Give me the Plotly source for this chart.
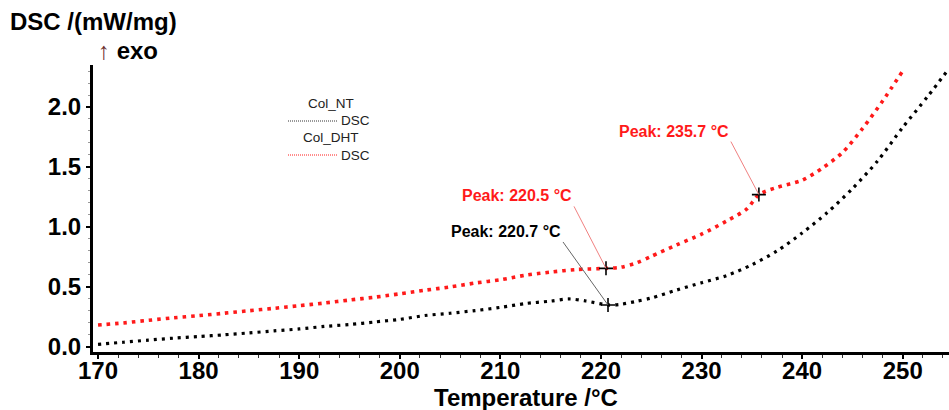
import plotly.graph_objects as go

# DSC curves, temperature in °C and heat flow in mW/mg
temp_nt = [170.0, 172.5, 175.0, 177.5, 180.0, 182.5, 185.0, 187.5, 190.0, 192.5,
           195.0, 197.5, 200.0, 202.5, 205.0, 207.5, 210.0, 212.5, 215.0, 216.8,
           218.5, 220.7, 222.0, 223.5, 225.0, 227.5, 230.0, 232.5, 235.0, 237.5,
           240.0, 242.5, 245.0, 247.5, 250.0, 252.5, 254.6]
dsc_nt = [0.022, 0.039, 0.057, 0.073, 0.087, 0.101, 0.117, 0.134, 0.150, 0.171,
          0.187, 0.208, 0.230, 0.262, 0.281, 0.303, 0.330, 0.362, 0.382, 0.400,
          0.383, 0.350, 0.356, 0.380, 0.408, 0.474, 0.535, 0.595, 0.685, 0.800,
          0.950, 1.120, 1.320, 1.550, 1.830, 2.090, 2.320]

temp_dht = [170.0, 172.5, 175.0, 177.5, 180.0, 182.5, 185.0, 187.5, 190.0, 192.5,
            195.0, 197.5, 200.0, 202.5, 205.0, 207.5, 210.0, 212.5, 215.0, 217.5,
            220.5, 222.0, 223.5, 225.0, 227.5, 230.0, 232.5, 234.5, 235.7, 237.5,
            240.0, 242.0, 244.0, 246.0, 248.0, 250.0]
dsc_dht = [0.183, 0.200, 0.222, 0.243, 0.261, 0.281, 0.302, 0.322, 0.344, 0.366,
           0.391, 0.415, 0.443, 0.473, 0.500, 0.533, 0.560, 0.598, 0.624, 0.645,
           0.655, 0.665, 0.700, 0.755, 0.850, 0.940, 1.050, 1.150, 1.270, 1.330,
           1.390, 1.490, 1.620, 1.820, 2.050, 2.300]

# Peak markers
peak_labels = ["Peak: 220.7 °C", "Peak: 220.5 °C", "Peak: 235.7 °C"]
peak_temps = [220.7, 220.5, 235.7]
peak_vals = [0.350, 0.655, 1.270]

x_ticks = [170, 180, 190, 200, 210, 220, 230, 240, 250]
y_ticks = [0.0, 0.5, 1.0, 1.5, 2.0]

FONT = "Liberation Sans, Arial, sans-serif"
RED = "#ff1a1a"

# plot area in pixels
L, R, T, B = 93, 949, 65, 352


def px(x):
    return (x - L) / (R - L)


def py(y):
    return (B - y) / (B - T)


fig = go.Figure()

fig.add_trace(go.Scatter(
    x=temp_nt, y=dsc_nt, mode="lines", name="Col_NT",
    line=dict(color="#000000", width=3.2, dash="3px,5px", shape="spline", smoothing=0.8),
    showlegend=False, hoverinfo="skip"))
fig.add_trace(go.Scatter(
    x=temp_dht, y=dsc_dht, mode="lines", name="Col_DHT",
    line=dict(color=RED, width=3.6, dash="3.5px,5px", shape="spline", smoothing=0.8),
    showlegend=False, hoverinfo="skip"))

fig.add_trace(go.Scatter(
    x=peak_temps, y=peak_vals, mode="markers",
    marker=dict(symbol="cross-thin", size=10, line=dict(color="#000000", width=1.6)),
    showlegend=False, hoverinfo="skip"))

# peak annotations: (colour, leader colour, ax, ay)
peak_styles = [("#000000", "#666666", -45, -63),
               (RED, "#f08080", -32, -62),
               (RED, "#f08080", -28, -53)]
for label, t, v, (c, lc, ax, ay) in zip(peak_labels, peak_temps, peak_vals, peak_styles):
    fig.add_annotation(
        x=t, y=v, xref="x", yref="y", text=label,
        showarrow=True, arrowhead=0, arrowwidth=1, arrowcolor=lc,
        ax=ax, ay=ay, xanchor="right", yanchor="bottom",
        font=dict(family=FONT, size=16, color=c, weight="bold"))

# axis titles
fig.add_annotation(x=px(8), y=py(22), xref="paper", yref="paper", text="DSC /(mW/mg)",
                   showarrow=False, xanchor="left", yanchor="middle",
                   font=dict(family=FONT, size=24, color="#000000", weight="bold"))
fig.add_annotation(x=px(96), y=py(50), xref="paper", yref="paper",
                   text="<span style='color:#6b2d2d;font-weight:normal'>↑</span> exo",
                   showarrow=False, xanchor="left", yanchor="middle",
                   font=dict(family=FONT, size=24, color="#000000", weight="bold"))
fig.add_annotation(x=px(526), y=py(397), xref="paper", yref="paper", text="Temperature /°C",
                   showarrow=False, xanchor="center", yanchor="middle",
                   font=dict(family=FONT, size=24, color="#000000", weight="bold"))

# legend block
legend_rows = [("Col_NT", "#333333", 103, 121), ("Col_DHT", RED, 137, 155)]
for name, col, ty, ly in legend_rows:
    fig.add_annotation(x=px(331), y=py(ty), xref="paper", yref="paper", text=name,
                       showarrow=False, xanchor="center", yanchor="middle",
                       font=dict(family=FONT, size=13.5, color="#222222"))
    fig.add_shape(type="line", xref="paper", yref="paper",
                  x0=px(288), x1=px(337), y0=py(ly), y1=py(ly),
                  line=dict(color=col, width=1, dash="1px,1px"))
    fig.add_annotation(x=px(339), y=py(ly), xref="paper", yref="paper", text="DSC",
                       showarrow=False, xanchor="left", yanchor="middle",
                       font=dict(family=FONT, size=13.5, color="#222222"))

fig.update_xaxes(
    range=[169.5, 254.6], tickmode="array", tickvals=x_ticks,
    ticktext=[str(v) for v in x_ticks],
    showline=True, linecolor="#000000", linewidth=3, mirror=False,
    ticks="outside", ticklen=4, tickwidth=1.5, tickcolor="#000000",
    ticklabelstandoff=-9,
    minor=dict(dtick=2, ticks="outside", ticklen=3, tickwidth=1, tickcolor="#333333"),
    showgrid=False, zeroline=False,
    tickfont=dict(family=FONT, size=24, color="#000000", weight="bold"))
fig.update_yaxes(
    range=[-0.042, 2.35], tickmode="array", tickvals=y_ticks,
    ticktext=[f"{v:.1f}" for v in y_ticks],
    showline=True, linecolor="#000000", linewidth=3, mirror=False,
    ticks="outside", ticklen=4, tickwidth=1.5, tickcolor="#000000",
    minor=dict(dtick=0.1, ticks="outside", ticklen=2, tickwidth=1, tickcolor="#999999"),
    showgrid=False, zeroline=False,
    tickfont=dict(family=FONT, size=24, color="#000000", weight="bold"))

fig.update_layout(
    width=949, height=410,
    margin=dict(l=L, r=949 - R, t=T, b=410 - B),
    paper_bgcolor="white", plot_bgcolor="white",
    showlegend=False)

fig.write_html("out.html")
